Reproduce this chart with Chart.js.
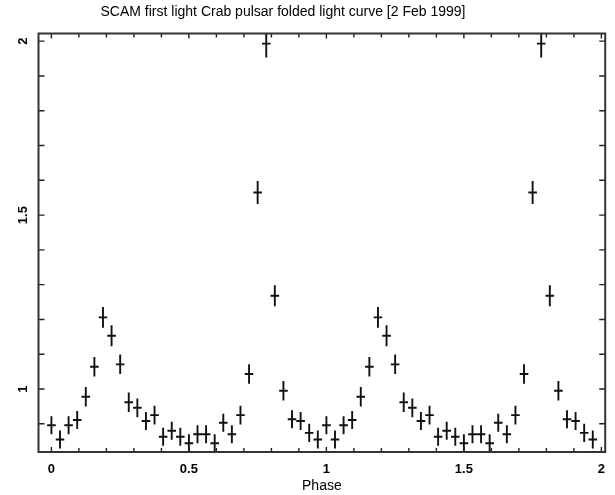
<!DOCTYPE html>
<html><head><meta charset="utf-8">
<script src="https://cdn.jsdelivr.net/npm/chart.js@4/dist/chart.umd.min.js"></script>
<style>html,body{margin:0;padding:0;background:#fff}#wrap{width:615px;height:495px}</style>
</head><body><div id="wrap"><canvas id="c" width="615" height="495"></canvas></div>
<script>
const titleText = 'SCAM first light Crab pulsar folded light curve [2 Feb 1999]';
const xTitle = 'Phase';

const phase = [
  0.00000, 0.03125, 0.06250, 0.09375, 0.12500, 0.15625, 0.18750, 0.21875,
  0.25000, 0.28125, 0.31250, 0.34375, 0.37500, 0.40625, 0.43750, 0.46875,
  0.50000, 0.53125, 0.56250, 0.59375, 0.62500, 0.65625, 0.68750, 0.71875,
  0.75000, 0.78125, 0.81250, 0.84375, 0.87500, 0.90625, 0.93750, 0.96875,
  1.00000, 1.03125, 1.06250, 1.09375, 1.12500, 1.15625, 1.18750, 1.21875,
  1.25000, 1.28125, 1.31250, 1.34375, 1.37500, 1.40625, 1.43750, 1.46875,
  1.50000, 1.53125, 1.56250, 1.59375, 1.62500, 1.65625, 1.68750, 1.71875,
  1.75000, 1.78125, 1.81250, 1.84375, 1.87500, 1.90625, 1.93750, 1.96875
];
const binHalfWidth = 0.015625;

const flux = [
  0.896, 0.855, 0.896, 0.911, 0.978, 1.064, 1.206, 1.153,
  1.071, 0.962, 0.946, 0.908, 0.925, 0.863, 0.880, 0.863,
  0.844, 0.870, 0.870, 0.844, 0.903, 0.870, 0.925, 1.043,
  1.565, 1.993, 1.268, 0.995, 0.913, 0.908, 0.874, 0.855,
  0.896, 0.855, 0.896, 0.911, 0.978, 1.064, 1.206, 1.153,
  1.071, 0.962, 0.946, 0.908, 0.925, 0.863, 0.880, 0.863,
  0.844, 0.870, 0.870, 0.844, 0.903, 0.870, 0.925, 1.043,
  1.565, 1.993, 1.268, 0.995, 0.913, 0.908, 0.874, 0.855
];

const fluxErr = [
  0.026, 0.026, 0.026, 0.026, 0.028, 0.028, 0.030, 0.030,
  0.028, 0.028, 0.027, 0.026, 0.027, 0.026, 0.026, 0.026,
  0.026, 0.026, 0.026, 0.026, 0.026, 0.026, 0.027, 0.028,
  0.033, 0.040, 0.030, 0.028, 0.026, 0.026, 0.026, 0.026,
  0.026, 0.026, 0.026, 0.026, 0.028, 0.028, 0.030, 0.030,
  0.028, 0.028, 0.027, 0.026, 0.027, 0.026, 0.026, 0.026,
  0.026, 0.026, 0.026, 0.026, 0.026, 0.026, 0.027, 0.028,
  0.033, 0.040, 0.030, 0.028, 0.026, 0.026, 0.026, 0.026
];

const xTicks = [0, 0.1, 0.2, 0.3, 0.4, 0.5, 0.6, 0.7, 0.8, 0.9, 1.0,
                1.1, 1.2, 1.3, 1.4, 1.5, 1.6, 1.7, 1.8, 1.9, 2.0];
const xLabelTicks = [0, 0.5, 1, 1.5, 2];
const xLabels = ['0', '0.5', '1', '1.5', '2'];
const yTicks = [0.9, 1.0, 1.1, 1.2, 1.3, 1.4, 1.5, 1.6, 1.7, 1.8, 1.9, 2.0];
const yLabelTicks = [1, 1.5, 2];
const yLabels = ['1', '1.5', '2'];

const INK = '#111';

function labelFor(v, vals, labels) {
  for (let i = 0; i < vals.length; i++) if (Math.abs(v - vals[i]) < 1e-6) return labels[i];
  return '';
}
function isMajor(v, vals) { return vals.some(m => Math.abs(m - v) < 1e-6); }

const framePlugin = {
  id: 'frame',
  afterDatasetsDraw(chart) {
    const ctx = chart.ctx, a = chart.chartArea;
    const xs = chart.scales.x, ys = chart.scales.y;

    // title
    ctx.save();
    ctx.fillStyle = '#000';
    ctx.font = '14px "Liberation Sans", Arial, sans-serif';
    ctx.textAlign = 'center';
    ctx.textBaseline = 'middle';
    ctx.fillText(titleText, 283, 12.5);
    ctx.restore();

    // crosses
    ctx.save();
    ctx.beginPath();
    ctx.rect(a.left, a.top, a.right - a.left, a.bottom - a.top);
    ctx.clip();
    ctx.strokeStyle = INK;
    ctx.lineWidth = 1.9;
    ctx.beginPath();
    for (let i = 0; i < phase.length; i++) {
      const x0 = xs.getPixelForValue(phase[i] - binHalfWidth);
      const x1 = xs.getPixelForValue(phase[i] + binHalfWidth);
      const xc = xs.getPixelForValue(phase[i]);
      const yc = ys.getPixelForValue(flux[i]);
      const y0 = ys.getPixelForValue(flux[i] - fluxErr[i]);
      const y1 = ys.getPixelForValue(flux[i] + fluxErr[i]);
      ctx.moveTo(x0, yc); ctx.lineTo(x1, yc);
      ctx.moveTo(xc, y0); ctx.lineTo(xc, y1);
    }
    ctx.stroke();
    ctx.restore();

    // inward ticks and frame
    ctx.save();
    ctx.strokeStyle = '#222';
    ctx.lineWidth = 1.4;
    ctx.beginPath();
    xs.ticks.forEach(t => {
      const px = xs.getPixelForValue(t.value);
      const len = isMajor(t.value, xLabelTicks) ? 5 : 4;
      ctx.moveTo(px, a.bottom); ctx.lineTo(px, a.bottom - len);
      ctx.moveTo(px, a.top); ctx.lineTo(px, a.top + len);
    });
    ys.ticks.forEach(t => {
      const py = ys.getPixelForValue(t.value);
      ctx.moveTo(a.left, py); ctx.lineTo(a.left + 6, py);
      ctx.moveTo(a.right, py); ctx.lineTo(a.right - 6, py);
    });
    ctx.stroke();
    ctx.lineWidth = 2;
    ctx.strokeStyle = '#333';
    ctx.strokeRect(a.left, a.top, a.right - a.left, a.bottom - a.top);
    ctx.restore();
  }
};

new Chart(document.getElementById('c'), {
  type: 'scatter',
  data: {
    datasets: [{
      data: phase.map((p, i) => ({ x: p, y: flux[i] })),
      pointRadius: 0,
      showLine: false
    }]
  },
  options: {
    responsive: false,
    animation: false,
    devicePixelRatio: 1,
    layout: { autoPadding: false, padding: { left: 0, right: 2, top: 33.5, bottom: 0 } },
    plugins: {
      legend: { display: false },
      tooltip: { enabled: false },
      title: { display: false }
    },
    scales: {
      x: {
        type: 'linear',
        min: -0.047,
        max: 2.014,
        afterBuildTicks: s => { s.ticks = xTicks.map(v => ({ value: v })); },
        afterFit: s => { s.height = 43; },
        grid: { display: false, drawTicks: false },
        border: { display: false },
        ticks: {
          autoSkip: false, maxRotation: 0, minRotation: 0, padding: 10,
          color: '#000',
          font: { family: 'Liberation Sans', size: 13, weight: 'bold' },
          callback: v => labelFor(v, xLabelTicks, xLabels)
        },
        title: {
          display: true, text: xTitle, color: '#000',
          font: { family: 'Liberation Sans', size: 14 },
          padding: { top: 0, bottom: 0 }
        }
      },
      y: {
        type: 'linear',
        min: 0.819,
        max: 2.022,
        afterBuildTicks: s => { s.ticks = yTicks.map(v => ({ value: v })); },
        afterFit: s => { s.width = 38.5; },
        grid: { display: false, drawTicks: false },
        border: { display: false },
        ticks: {
          autoSkip: false, minRotation: 90, maxRotation: 90, crossAlign: 'center', padding: 6,
          color: '#000',
          font: { family: 'Liberation Sans', size: 13, weight: 'bold' },
          callback: v => labelFor(v, yLabelTicks, yLabels)
        }
      }
    }
  },
  plugins: [framePlugin]
});
</script>
</body></html>
